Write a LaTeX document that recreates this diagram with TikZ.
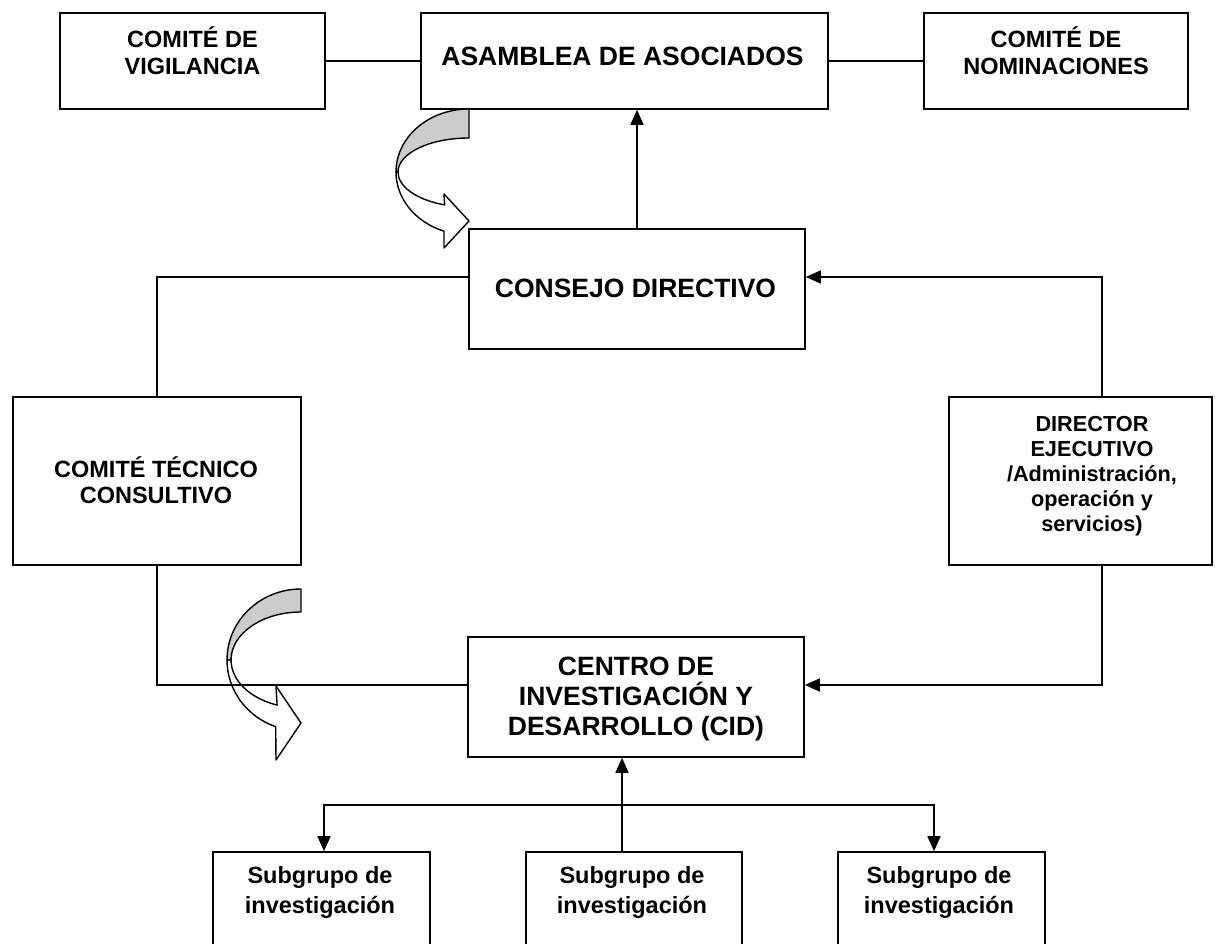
\documentclass[tikz,border=0pt]{standalone}
\usepackage{fontspec}
\setmainfont{Liberation Sans}
\usepackage{tikz}
\usetikzlibrary{arrows.meta}
\newcommand{\tope}{\rule{0pt}{1em}}

\begin{document}
\begin{tikzpicture}[x=1pt,y=-1pt,line width=1.6pt,>={Triangle[length=15pt,width=13pt]}]%
  \tikzstyle{cajan}=[rectangle,draw=black,inner sep=0]
  \tikzstyle{txtn}=[inner sep=0,align=center,anchor=north,font=\bfseries\fontsize{23.5}{26.5}\selectfont]
  \tikzstyle{txtg}=[inner sep=0,align=center,anchor=north,font=\bfseries\fontsize{26.5}{30}\selectfont]
  \tikzstyle{txtd}=[inner sep=0,align=center,anchor=north,font=\bfseries\fontsize{21.7}{25}\selectfont]
  \tikzstyle{txts}=[inner sep=0,align=center,anchor=north,font=\bfseries\fontsize{23.5}{30}\selectfont]
  \tikzstyle{grisn}=[draw=black,fill=black!20,line width=1.4pt,line join=round]
  \tikzstyle{blancon}=[draw=black,fill=white,line width=1.4pt,line join=round]
  \useasboundingbox (0,0) rectangle (1224,944);
  \clip (0,0) rectangle (1224,944);
  % cajas
  \node[cajan,minimum width=265pt,minimum height=96pt] (vig) at (192.5,61) {};
  \node[cajan,minimum width=407pt,minimum height=96pt] (asa) at (624.5,61) {};
  \node[cajan,minimum width=264pt,minimum height=96pt] (nom) at (1056,61) {};
  \node[cajan,minimum width=336pt,minimum height=120pt] (con) at (637,289) {};
  \node[cajan,minimum width=288pt,minimum height=168pt] (ctc) at (157,481) {};
  \node[cajan,minimum width=263pt,minimum height=168pt] (dir) at (1080.5,481) {};
  \node[cajan,minimum width=336pt,minimum height=120pt] (cid) at (636,697) {};
  \node[cajan,minimum width=217pt,minimum height=130pt] (s1) at (321.5,917) {};
  \node[cajan,minimum width=216pt,minimum height=130pt] (s2) at (634,917) {};
  \node[cajan,minimum width=207pt,minimum height=130pt] (s3) at (941.5,917) {};
  % textos
  \node[txtn] (vigt) at (192.5,23.5) {\tope COMITÉ DE\\VIGILANCIA};
  \node[txtg] (asat) at (622.5,38.5) {\tope ASAMBLEA DE ASOCIADOS};
  \node[txtn] (nomt) at (1056,23.5) {\tope COMITÉ DE\\NOMINACIONES};
  \node[txtg] (cont) at (635.5,270.5) {\tope CONSEJO DIRECTIVO};
  \node[txtn] (ctct) at (156,453) {\tope COMITÉ TÉCNICO\\CONSULTIVO};
  \node[txtd] (dirt) at (1092,409) {\tope DIRECTOR\\EJECUTIVO\\/Administración,\\operación y\\servicios)};
  \node[txtg] (cidt) at (636,648) {\tope CENTRO DE\\INVESTIGACIÓN Y\\DESARROLLO (CID)};
  \node[txts] (s1t) at (320,859.5) {\tope Subgrupo de\\investigación};
  \node[txts] (s2t) at (632,859.5) {\tope Subgrupo de\\investigación};
  \node[txts] (s3t) at (939,859.5) {\tope Subgrupo de\\investigación};
  % flechas curvas
  \draw[grisn] (469,109) arc[start angle=270,end angle=180,x radius=73,y radius=63]
    -- (398,172) arc[start angle=180,end angle=270,x radius=71,y radius=34] -- cycle;
  \draw[blancon] (396,172) arc[start angle=180,end angle=110,x radius=73,y radius=63]
    -- (444,248) -- (469,221) -- (444,194) -- (444.7,204.9)
    arc[start angle=110,end angle=180,x radius=71,y radius=35] -- cycle;
  \draw[grisn] (301,589) arc[start angle=270,end angle=180,x radius=74,y radius=71]
    -- (231,660) arc[start angle=180,end angle=270,x radius=70,y radius=48] -- cycle;
  \draw[blancon] (227,660) arc[start angle=180,end angle=110,x radius=74,y radius=71]
    -- (276,760) -- (301,723) -- (276,686) -- (277.1,705.1)
    arc[start angle=110,end angle=180,x radius=70,y radius=48] -- cycle;
  % conectores
  \draw (vig) -- (asa);
  \draw (asa) -- (nom);
  \draw[->] (con.north) -- (con.north |- asa.south);
  \draw (ctc.north) |- ([yshift=12pt]con.west);
  \draw[->] ([xshift=21.5pt]dir.north) |- ([yshift=12pt]con.east);
  \draw (ctc.south) |- ([yshift=12pt]cid.west);
  \draw[->] ([xshift=21.5pt]dir.south) |- ([yshift=12pt]cid.east);
  \coordinate (rama) at (622,805);
  \draw[->] ([xshift=-12pt]s2.north) -- ([xshift=-14pt]cid.south);
  \draw[->] (rama) -| ([xshift=2.5pt]s1.north);
  \draw[->] (rama) -| ([xshift=-7.5pt]s3.north);
\end{tikzpicture}
\end{document}
